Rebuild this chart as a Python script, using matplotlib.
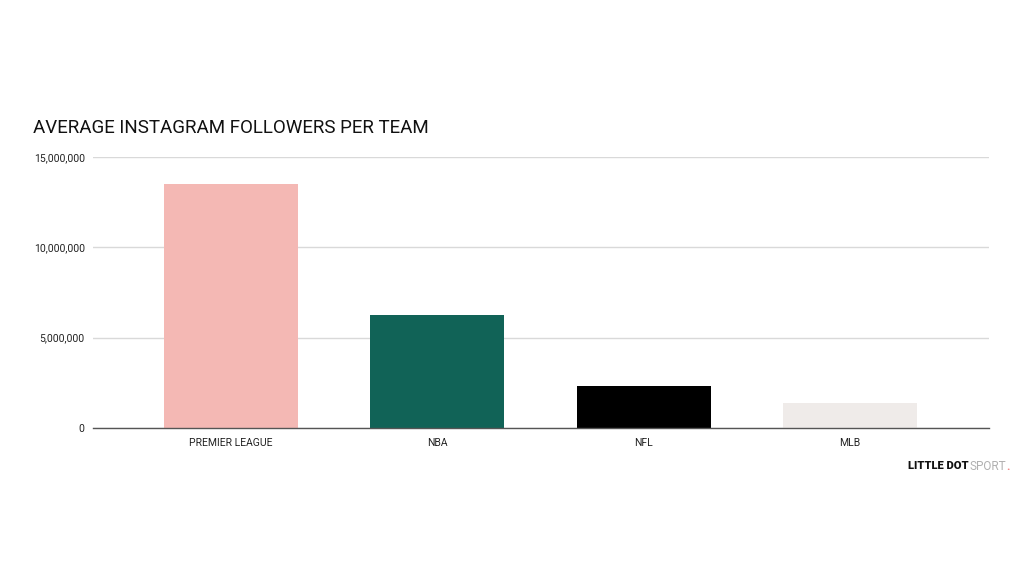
import matplotlib
matplotlib.use("Agg")
import matplotlib.pyplot as plt
from matplotlib.ticker import FuncFormatter

categories = ["PREMIER LEAGUE", "NBA", "NFL", "MLB"]
followers = [13500000, 6250000, 2320000, 1380000]
bar_colors = ["#f4b8b4", "#116357", "#000000", "#efebe9"]
yticks = [0, 5000000, 10000000, 15000000]

plt.rcParams['font.family'] = ['Roboto', 'DejaVu Sans']

fig = plt.figure(figsize=(10.24, 5.76), dpi=100)
ax = fig.add_axes([93/1024, 1-428/576, (989-93)/1024, (428-157)/576])

x = list(range(len(categories)))
ax.bar(x, followers, width=0.65, color=bar_colors, zorder=3)
ax.set_xlim(-0.67, 3.675)
ax.set_ylim(0, 15000000)
ax.set_yticks(yticks)
ax.yaxis.set_major_formatter(FuncFormatter(lambda v, p: f"{int(v):,}"))
ax.set_xticks(x)
ax.set_xticklabels(categories)
ax.tick_params(axis='both', length=0, labelsize=7.5, colors='#222222')
ax.tick_params(axis='x', pad=7)
ax.tick_params(axis='y', pad=6)
ax.grid(axis='y', color='#d9d9d9', linewidth=1, zorder=0)
for s in ['top', 'right', 'left']:
    ax.spines[s].set_visible(False)
ax.spines['bottom'].set_color('#555555')
ax.spines['bottom'].set_linewidth(1)
ax.spines['bottom'].set_zorder(4)

fig.text(33/1024, 1-128/576, "AVERAGE INSTAGRAM FOLLOWERS PER TEAM", fontsize=13.5,
         color='#111111', va='center', ha='left')

# logo
t1 = fig.text(908/1024, 1-466/576, "LITTLE DOT", fontsize=8, fontweight='heavy',
              color='#111111', va='center', ha='left')
t2 = fig.text(1006/1024, 1-466/576, "SPORT", fontsize=8.5, fontweight='normal',
              color='#b0b0b0', va='center', ha='right')
fig.text(1006.5/1024, 1-466/576, ".", fontsize=8.5, fontweight='bold',
         color='#f08080', va='center', ha='left')

fig.savefig("out.png", dpi=100, facecolor='white')
